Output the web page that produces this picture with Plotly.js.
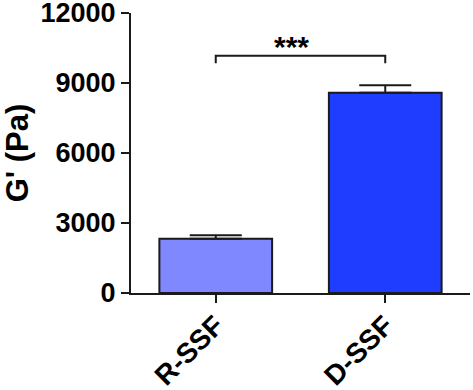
<!DOCTYPE html>
<html>
<head>
<meta charset="utf-8">
<script src="https://cdn.plot.ly/plotly-3.0.1.min.js"></script>
<style>
  html, body { margin: 0; padding: 0; background: #fff; }
  #chart { width: 473px; height: 390px; }
</style>
</head>
<body>
<div id="chart"></div>
<script>
// data
const groups = ['R-SSF', 'D-SSF'];
const meanG = [2320, 8580];       // G' (Pa)
const semG = [150, 320];
const barColors = ['#7f88ff', '#1f3dff'];

// significance bracket between the two groups
const sigLabel = '***';
const bracketTop = 10170;
const bracketFoot = 9850;

const font = 'Liberation Sans, Arial, sans-serif';

const trace = {
    type: 'bar',
    x: groups,
    y: meanG,
    width: 0.665,
    marker: { color: barColors, line: { color: '#1a1a1a', width: 2 } },
    error_y: {
        type: 'data',
        symmetric: false,
        array: semG,
        arrayminus: [0, 0],
        color: '#1a1a1a',
        thickness: 2,
        width: 26
    },
    hoverinfo: 'none'
};

const layout = {
    width: 473,
    height: 390,
    margin: { l: 131, r: 3, t: 13, b: 97 },
    paper_bgcolor: '#fff',
    plot_bgcolor: '#fff',
    showlegend: false,
    font: { family: font, color: '#000' },
    xaxis: {
        type: 'category',
        range: [-0.5, 1.5],
        showline: true,
        linecolor: '#1a1a1a',
        linewidth: 2,
        ticks: 'outside',
        ticklen: 8,
        tickwidth: 2,
        tickcolor: '#1a1a1a',
        tickangle: -45,
        ticklabelstandoff: -5,
        tickfont: { family: font, size: 28, weight: 'bold', color: '#000' },
        showgrid: false,
        zeroline: false
    },
    yaxis: {
        range: [0, 12000],
        dtick: 3000,
        showline: true,
        linecolor: '#1a1a1a',
        linewidth: 2,
        ticks: 'outside',
        ticklen: 8,
        tickwidth: 2,
        tickcolor: '#1a1a1a',
        tickformat: 'd',
        ticklabeloverflow: 'allow',
        tickfont: { family: font, size: 27, weight: 'bold', color: '#000' },
        showgrid: false,
        zeroline: false,
        title: { text: "G' (Pa)", font: { family: font, size: 31, weight: 'bold', color: '#000' }, standoff: 5 }
    },
    shapes: [
        {
            type: 'path',
            xref: 'x', yref: 'y',
            path: 'M0,' + bracketFoot + ' L0,' + bracketTop + ' L1,' + bracketTop + ' L1,' + bracketFoot,
            line: { color: '#1a1a1a', width: 2 }
        }
    ],
    annotations: [
        {
            x: 0.5, y: bracketTop, xref: 'x', yref: 'y',
            text: '<b>' + sigLabel + '</b>',
            showarrow: false,
            yanchor: 'bottom',
            yshift: -9,
            xshift: -9,
            font: { family: font, size: 30, color: '#000' }
        }
    ]
};

Plotly.newPlot('chart', [trace], layout, { displayModeBar: false, staticPlot: true });
</script>
</body>
</html>
